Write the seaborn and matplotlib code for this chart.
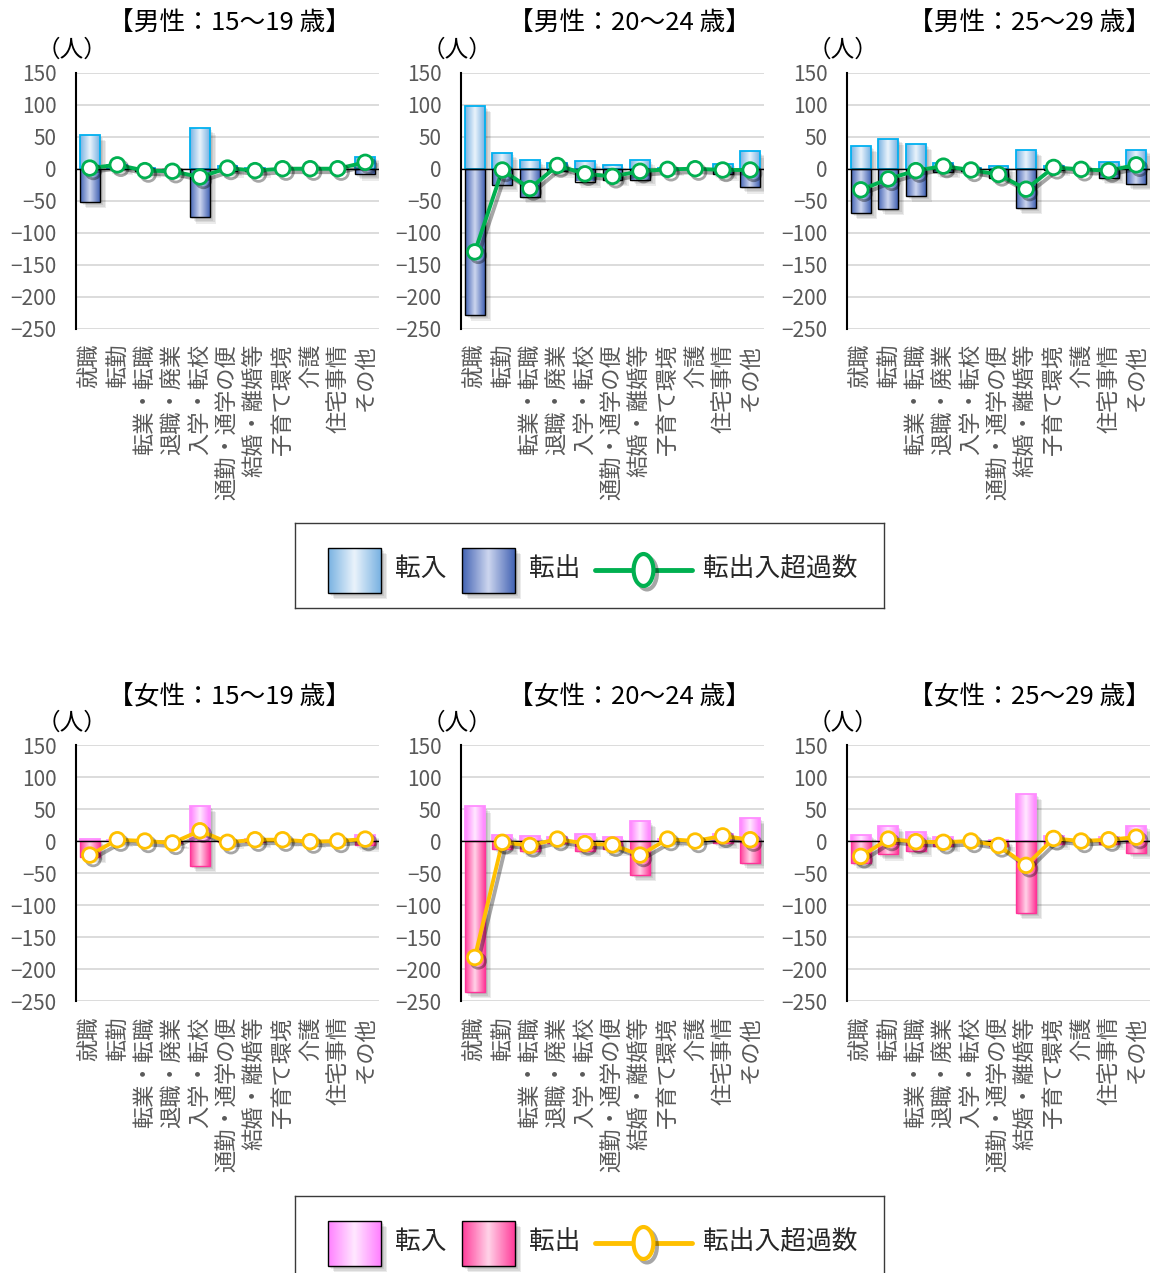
import numpy as np
import pandas as pd
import matplotlib
matplotlib.use("Agg")
import matplotlib.pyplot as plt
import matplotlib.patheffects as pe
from matplotlib.colors import to_rgb
from matplotlib.patches import Rectangle
from matplotlib.lines import Line2D
from matplotlib.markers import MarkerStyle
from matplotlib.transforms import Affine2D
import seaborn as sns

sns.set_style("white")
plt.rcParams['font.family'] = ['Noto Sans CJK JP', 'DejaVu Sans']
plt.rcParams['axes.unicode_minus'] = True

#%% data (人)

categories = ['就職', '転勤', '転業・転職', '退職・廃業', '入学・転校', '通勤・通学の便',
              '結婚・離婚等', '子育て環境', '介護', '住宅事情', 'その他']

male_15_19_in = [53, 6, 1, 0, 63, 5, 1, 0, 0, 0, 19]
male_15_19_out = [-52, 0, -4, -4, -76, -4, -4, 0, 0, 0, -9]
male_15_19_net = [1, 6, -3, -4, -13, 1, -3, 0, 0, 0, 10]

male_20_24_in = [98, 24, 13, 9, 12, 6, 13, 1, 0, 7, 27]
male_20_24_out = [-228, -26, -44, -4, -20, -18, -17, -2, 0, -9, -29]
male_20_24_net = [-130, -2, -31, 5, -8, -12, -4, -1, 0, -2, -2]

male_25_29_in = [36, 47, 39, 9, 1, 5, 29, 4, 0, 11, 30]
male_25_29_out = [-69, -63, -42, -5, -3, -14, -61, -2, -1, -14, -24]
male_25_29_net = [-33, -16, -3, 4, -2, -9, -32, 2, -1, -3, 6]

female_15_19_in = [3, 2, 0, 0, 55, 0, 3, 2, 0, 0, 10]
female_15_19_out = [-25, 0, 0, -3, -39, -2, -1, 0, -1, 0, -7]
female_15_19_net = [-22, 2, 0, -3, 16, -2, 2, 2, -1, 0, 3]

female_20_24_in = [54, 10, 8, 6, 11, 7, 31, 3, 0, 11, 36]
female_20_24_out = [-236, -12, -15, -3, -15, -13, -53, 0, 0, -3, -34]
female_20_24_net = [-182, -2, -7, 3, -4, -6, -22, 3, 0, 8, 2]

female_25_29_in = [10, 24, 14, 6, 0, 1, 74, 8, 0, 6, 24]
female_25_29_out = [-34, -21, -15, -8, 0, -8, -112, -4, 0, -4, -18]
female_25_29_net = [-24, 3, -1, -2, 0, -7, -38, 4, 0, 2, 6]

titles = ['【男性：15～19 歳】', '【男性：20～24 歳】', '【男性：25～29 歳】',
          '【女性：15～19 歳】', '【女性：20～24 歳】', '【女性：25～29 歳】']
legend_labels = ['転入', '転出', '転出入超過数']

# colours: (edge of gradient, centre of gradient, outline)
male_style = {"in": ('#79b2e2', '#eaf3fb', '#00b0f0'),
              "out": ('#4464b4', '#cdd6ef', '#000000'),
              "line": '#00b050'}
female_style = {"in": ('#ff80ff', '#ffe8ff', '#ff8cff'),
                "out": ('#ff3d9a', '#ffd3e8', '#ff3399'),
                "line": '#ffc000'}

panels = [
    (male_15_19_in, male_15_19_out, male_15_19_net, male_style),
    (male_20_24_in, male_20_24_out, male_20_24_net, male_style),
    (male_25_29_in, male_25_29_out, male_25_29_net, male_style),
    (female_15_19_in, female_15_19_out, female_15_19_net, female_style),
    (female_20_24_in, female_20_24_out, female_20_24_net, female_style),
    (female_25_29_in, female_25_29_out, female_25_29_net, female_style),
]

#%% helpers

W, H = 1150, 1273

def fx(px):
    return px / W

def fy(py):
    return 1 - py / H

def gradientImage(edge_col, mid_col, n=64):
    t = np.abs(np.linspace(-1, 1, n))[:, None]
    e = np.array(to_rgb(edge_col))[None, :]
    m = np.array(to_rgb(mid_col))[None, :]
    return (m * (1 - t) + e * t)[None, :, :]

def shadowEffects(alpha=0.08):
    return [pe.SimplePatchShadow(offset=(o, -o), shadow_rgbFace='black', alpha=alpha)
            for o in (1.5, 2.5, 3.5, 4.5)]

def styleBars(ax, patches, edge_col, mid_col, outline, lw=1.0):
    img = gradientImage(edge_col, mid_col)
    for p in patches:
        h = p.get_height()
        if h == 0:
            p.set_visible(False)
            continue
        x0, y0 = p.get_xy()
        w = p.get_width()
        p.set_path_effects(shadowEffects())
        im = ax.imshow(img, extent=[x0, x0 + w, y0, y0 + h], aspect='auto',
                       interpolation='bilinear', zorder=2.5)
        im.set_clip_path(p)
        ax.add_patch(Rectangle((x0, y0), w, h, fill=False, edgecolor=outline,
                               lw=lw, zorder=2.6))

#%% figure

fig = plt.figure(figsize=(W / 100, H / 100), dpi=100)

axes_left = [76, 461, 847]
axes_top = [72.7, 745]
axes_w, axes_h = 303, 256
title_x = [230, 630, 1029]
title_y = [24, 697]

for idx, (vin, vout, vnet, style) in enumerate(panels):
    row, col = divmod(idx, 3)
    ax = fig.add_axes([fx(axes_left[col]), fy(axes_top[row] + axes_h),
                       axes_w / W, axes_h / H])
    df = pd.DataFrame({"category": categories, "in": vin, "out": vout, "net": vnet})

    sns.barplot(data=df, x="category", y="in", color=style["in"][0], width=0.72,
                saturation=1, ax=ax)
    n_in = len(ax.patches)
    sns.barplot(data=df, x="category", y="out", color=style["out"][0], width=0.72,
                saturation=1, ax=ax)
    patches = list(ax.patches)
    styleBars(ax, patches[:n_in], *style["in"], lw=1.3)
    styleBars(ax, patches[n_in:], *style["out"], lw=1.0)

    ax.axhline(0, color='black', lw=1.0, zorder=2.7)

    sns.lineplot(x=np.arange(len(categories)), y=df["net"].values, ax=ax,
                 color=style["line"], linewidth=2.8, marker='o', markersize=10.5,
                 markerfacecolor='white', markeredgecolor=style["line"],
                 markeredgewidth=2.0, zorder=4,
                 path_effects=[pe.SimpleLineShadow(offset=(2.5, -2.5), alpha=0.35,
                                                   shadow_color='black'),
                               pe.Normal()])

    ax.set_xlim(-0.5, len(categories) - 0.5)
    ax.set_ylim(-250, 150)
    ax.set_yticks(range(-250, 151, 50))
    ax.set_xticks(range(len(categories)))
    ax.set_xticklabels(categories, rotation=90)
    ax.set(xlabel=None, ylabel=None)
    ax.grid(axis='y', color='#d9d9d9', lw=1.3)
    ax.set_axisbelow(True)
    for s in ['top', 'right', 'bottom']:
        ax.spines[s].set_visible(False)
    ax.spines['left'].set_color('black')
    ax.spines['left'].set_linewidth(1.5)
    ax.tick_params(axis='y', length=0, pad=14, labelsize=15, labelcolor='#595959')
    ax.tick_params(axis='x', length=0, pad=11, labelsize=16, labelcolor='#595959')

    fig.text(fx(title_x[col]), fy(title_y[row]), titles[idx], ha='center',
             va='center', fontsize=18.5, color='black')
    fig.text(fx(axes_left[col] - 4), fy(axes_top[row] - 22), '（人）', ha='center',
             va='center', fontsize=17, color='black')

#%% legends

def drawLegend(top_px, style):
    lax = fig.add_axes([fx(295), fy(top_px + 85), 589 / W, 85 / H])
    lax.set_xlim(0, 589)
    lax.set_ylim(85, 0)
    lax.set_xticks([])
    lax.set_yticks([])
    for s in lax.spines.values():
        s.set_color('#3a3a3a')
        s.set_linewidth(1.0)
    cy = 47
    for (key, label, x0) in [("in", legend_labels[0], 33), ("out", legend_labels[1], 167)]:
        edge_col, mid_col, _ = style[key]
        r = Rectangle((x0, cy - 22), 53, 45, facecolor='none', edgecolor='none', zorder=1)
        lax.add_patch(r)
        r.set_path_effects([pe.SimplePatchShadow(offset=(o, -o), shadow_rgbFace='black',
                                                 alpha=0.08) for o in (1.5, 2.5, 3.5, 4.5)])
        im = lax.imshow(gradientImage(edge_col, mid_col), extent=[x0, x0 + 53, cy + 23, cy - 22],
                        aspect='auto', interpolation='bilinear', zorder=2)
        im.set_clip_path(r)
        lax.add_patch(Rectangle((x0, cy - 22), 53, 45, fill=False, edgecolor='black',
                                lw=1.0, zorder=3))
        lax.text(x0 + 67, cy - 1, label, ha='left', va='center', fontsize=18.5)
    lax.set_xlim(0, 589)
    lax.set_ylim(85, 0)
    lax.add_line(Line2D([300, 397], [cy, cy], color=style["line"], lw=3.5, zorder=3))
    lax.add_line(Line2D([348.5], [cy], marker=MarkerStyle('o', transform=Affine2D().scale(0.62, 1.0)),
                        markersize=23, markerfacecolor='white', markeredgecolor=style["line"],
                        markeredgewidth=3.0, zorder=4,
                        path_effects=[pe.SimpleLineShadow(offset=(2.5, -2.5), alpha=0.35,
                                                          shadow_color='black'), pe.Normal()]))
    lax.text(408, cy - 1, legend_labels[2], ha='left', va='center', fontsize=18.5)

drawLegend(523, male_style)
drawLegend(1196, female_style)

plt.savefig("out.png", dpi=100)
